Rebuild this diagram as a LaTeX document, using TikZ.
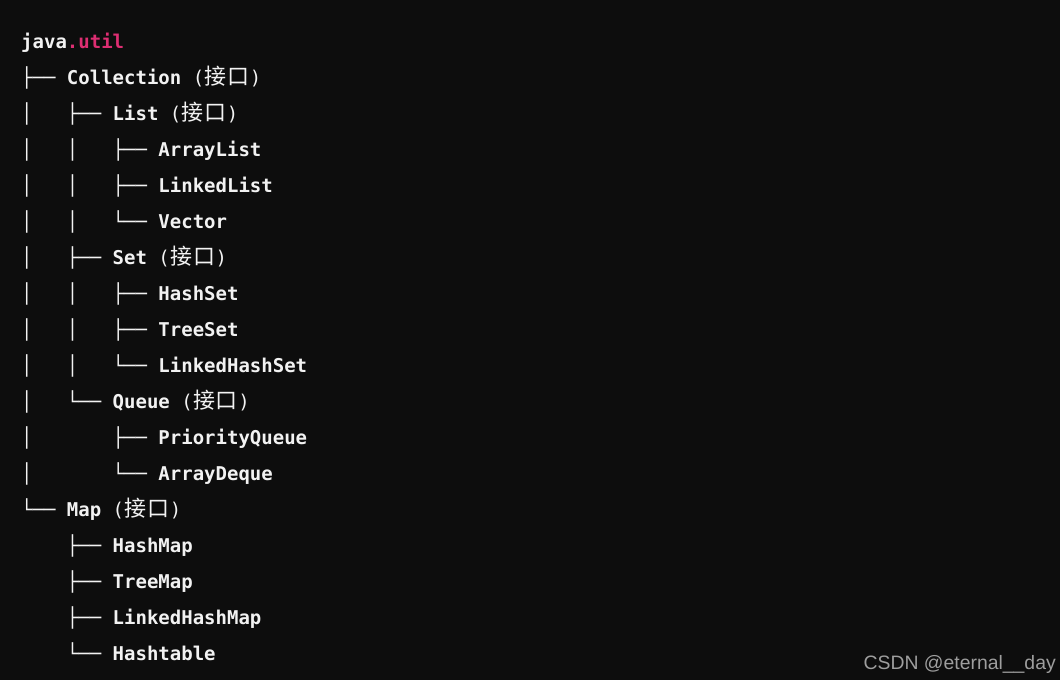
\documentclass[tikz,border=0pt]{standalone}
\usepackage{fontspec}
\newfontfamily\monof{DejaVu Sans Mono}
\newfontfamily\cjkf{Noto Sans CJK SC}
\newfontfamily\wmf{Liberation Sans}
\definecolor{bgc}{HTML}{0D0D0D}
\definecolor{fgc}{HTML}{F2F2F2}
\definecolor{pinkc}{HTML}{DD2E72}
\definecolor{wmc}{HTML}{9E9E9E}
\newcommand\tr[1]{{\monof\mdseries #1}}
\newcommand\nm[1]{{\monof\bfseries #1}}
\newcommand\cjc[1]{\makebox[22.8pt]{\cjkf\fontsize{22}{36}\selectfont #1}}
\newcommand\ifc{{\monof\mdseries(}\cjc{接}\cjc{口}{\monof\mdseries)}}
\tikzset{
  codeline/.style={anchor=base west, inner sep=0pt, text=fgc, font=\fontsize{19}{36}\selectfont\monof},
  watermark/.style={anchor=base east, inner sep=0pt, text=wmc, font=\fontsize{19.4}{22}\selectfont\wmf}
}
\begin{document}
\begin{tikzpicture}[x=1pt,y=1pt]
\fill[bgc] (0,0) rectangle (1060,-680);
\useasboundingbox (0,0) rectangle (1060,-680);
\node[codeline] (l1)  at (21,-48)  {\nm{java}{\color{pinkc}\nm{.util}}};
\node[codeline] (l2)  at (21,-84)  {\tr{├──\ }\nm{Collection}\tr{\ }\ifc};
\node[codeline] (l3)  at (21,-120) {\tr{│\ \ \ ├──\ }\nm{List}\tr{\ }\ifc};
\node[codeline] (l4)  at (21,-156) {\tr{│\ \ \ │\ \ \ ├──\ }\nm{ArrayList}};
\node[codeline] (l5)  at (21,-192) {\tr{│\ \ \ │\ \ \ ├──\ }\nm{LinkedList}};
\node[codeline] (l6)  at (21,-228) {\tr{│\ \ \ │\ \ \ └──\ }\nm{Vector}};
\node[codeline] (l7)  at (21,-264) {\tr{│\ \ \ ├──\ }\nm{Set}\tr{\ }\ifc};
\node[codeline] (l8)  at (21,-300) {\tr{│\ \ \ │\ \ \ ├──\ }\nm{HashSet}};
\node[codeline] (l9)  at (21,-336) {\tr{│\ \ \ │\ \ \ ├──\ }\nm{TreeSet}};
\node[codeline] (l10) at (21,-372) {\tr{│\ \ \ │\ \ \ └──\ }\nm{LinkedHashSet}};
\node[codeline] (l11) at (21,-408) {\tr{│\ \ \ └──\ }\nm{Queue}\tr{\ }\ifc};
\node[codeline] (l12) at (21,-444) {\tr{│\ \ \ \ \ \ \ ├──\ }\nm{PriorityQueue}};
\node[codeline] (l13) at (21,-480) {\tr{│\ \ \ \ \ \ \ └──\ }\nm{ArrayDeque}};
\node[codeline] (l14) at (21,-516) {\tr{└──\ }\nm{Map}\tr{\ }\ifc};
\node[codeline] (l15) at (21,-552) {\tr{\ \ \ \ ├──\ }\nm{HashMap}};
\node[codeline] (l16) at (21,-588) {\tr{\ \ \ \ ├──\ }\nm{TreeMap}};
\node[codeline] (l17) at (21,-624) {\tr{\ \ \ \ ├──\ }\nm{LinkedHashMap}};
\node[codeline] (l18) at (21,-660) {\tr{\ \ \ \ └──\ }\nm{Hashtable}};
\node[watermark] (wm) at (1056,-669) {CSDN @eternal\_\_day};
\end{tikzpicture}
\end{document}
